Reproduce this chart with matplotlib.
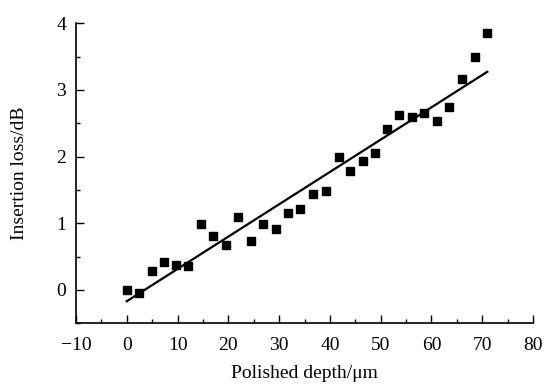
import numpy as np
import matplotlib.pyplot as plt

# data
depth_um = [0.0, 2.5, 4.9, 7.35, 9.7, 12.1, 14.6, 17.0, 19.5, 22.0,
            24.5, 26.9, 29.3, 31.8, 34.1, 36.6, 39.2, 41.7, 44.0, 46.5,
            48.9, 51.3, 53.7, 56.2, 58.6, 61.0, 63.5, 66.0, 68.5, 70.9]
loss_db = [0.0, -0.04, 0.29, 0.42, 0.375, 0.365, 0.99, 0.81, 0.68, 1.09,
           0.73, 0.99, 0.92, 1.15, 1.21, 1.44, 1.48, 1.99, 1.79, 1.93,
           2.06, 2.41, 2.63, 2.59, 2.65, 2.54, 2.74, 3.16, 3.50, 3.86]
fit_slope = 0.0485
fit_intercept = -0.17
fit_range = [0.0, 71.0]

x_ticks = [-10, 0, 10, 20, 30, 40, 50, 60, 70, 80]
y_ticks = [0, 1, 2, 3, 4]

plt.rcParams["font.family"] = ["Liberation Serif", "DejaVu Serif"]

fig = plt.figure(figsize=(5.49, 3.89), dpi=100)
ax = fig.add_axes([0.1384, 0.169, 0.8325, 0.771])

xf = np.array(fit_range)
ax.plot(xf, fit_slope * xf + fit_intercept, color="black", lw=1.6)
ax.plot(depth_um, loss_db, ls="none", marker="s", ms=5.6, color="black")

ax.set_xlim(-10, 80)
ax.set_ylim(-0.5, 4)
ax.set_xticks(x_ticks)
ax.set_yticks(y_ticks)
ax.set_xticks(np.arange(-5, 80, 10), minor=True)
ax.set_yticks(np.arange(-0.5, 4, 1.0), minor=True)
ax.tick_params(which="major", direction="in", length=6, width=1, labelsize=14)
ax.tick_params(which="minor", direction="in", length=3, width=1)
ax.tick_params(axis="x", pad=10)
ax.tick_params(axis="y", pad=7)
for s in ["top", "right"]:
    ax.spines[s].set_visible(False)
for s in ["left", "bottom"]:
    ax.spines[s].set_linewidth(1.2)

ax.set_xlabel("Polished depth/μm", fontsize=14)
ax.set_ylabel("Insertion loss/dB", fontsize=14)
ax.xaxis.set_label_coords(0.5, -0.138)
ax.yaxis.set_label_coords(-0.105, 0.5)

fig.savefig("out.png", dpi=100)
